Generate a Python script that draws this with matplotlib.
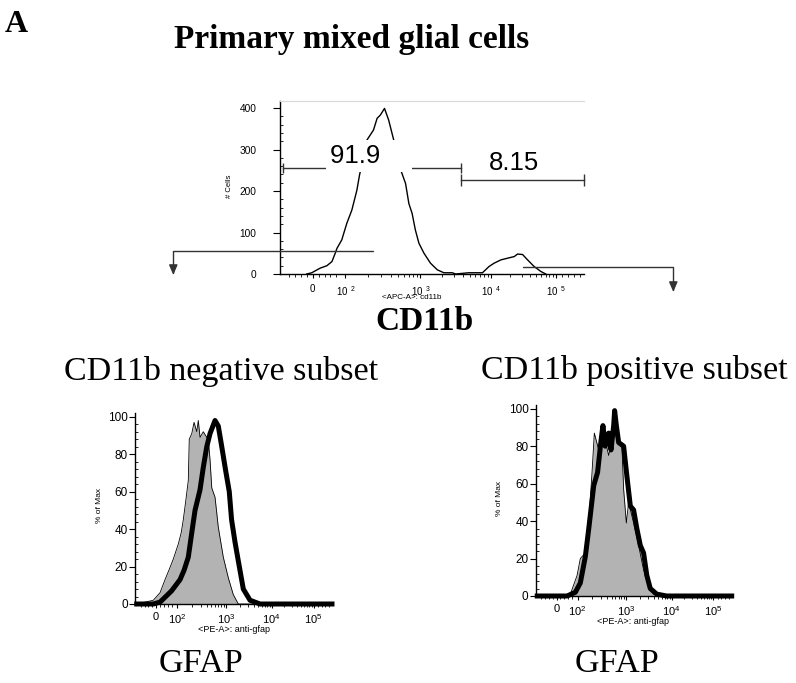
import numpy as np
import matplotlib
matplotlib.use("Agg")
import matplotlib.pyplot as plt
from matplotlib.patches import FancyArrowPatch
from matplotlib.path import Path
from matplotlib.ticker import MultipleLocator

plt.rcParams["font.family"] = ["Liberation Sans", "DejaVu Sans"]
plt.rcParams["mathtext.fontset"] = "custom"
plt.rcParams["mathtext.rm"] = "Liberation Sans"

# ---- data (x in logicle channel units 0..1024) ----
cd11b_x = [90, 107, 135, 158, 175, 186, 192, 208, 225, 242, 259, 268, 282, 293, 315, 327, 338, 352,
           366, 383, 394, 406, 423, 434, 445, 456, 468, 485, 507, 530, 552, 580, 592, 636, 682, 704,
           721, 744, 766, 789, 800, 817, 834, 856, 879, 895]
cd11b_y = [0, 3, 14, 20, 30, 50, 62, 82, 122, 154, 202, 239, 283, 323, 347, 375, 383, 399,
           371, 323, 283, 252, 218, 170, 146, 106, 74, 50, 26, 10, 3, 3, 0, 3, 3, 18,
           26, 34, 38, 42, 48, 47, 34, 18, 6, 0]

gate_neg = [11, 608]
gate_pos = [611, 1024]
gate_neg_y = 254.6
gate_pos_y = 226.5
gate_pct = ["91.9", "8.15"]

neg_grey_x = [9, 95, 130, 156, 180, 199, 225, 240, 251, 265, 277, 282, 295, 307, 321, 329, 338, 355,
              373, 381, 390, 399, 416, 433, 459, 485, 511, 537, 1024]
neg_grey_y = [0, 2, 6, 13, 19, 24, 32, 38, 45, 56, 66, 88, 91, 97, 92, 98, 89, 92,
              89, 88, 77, 62, 57, 41, 25, 14, 5, 0, 0]
neg_black_x = [9, 95, 130, 150, 190, 234, 255, 277, 295, 312, 338, 355, 373, 390, 416, 433, 451, 470,
               490, 502, 520, 537, 563, 598, 650, 1024]
neg_black_y = [0, 0, 1, 3, 7, 13, 18, 25, 38, 50, 61, 73, 84, 91, 98, 95, 84, 72,
               60, 45, 33, 23, 8, 2, 0, 0]

pos_grey_x = [9, 130, 182, 217, 234, 260, 278, 295, 307, 330, 347, 364, 382, 399, 408, 425, 451, 460,
              474, 486, 512, 538, 564, 590, 616, 650, 1024]
pos_grey_y = [0, 0, 1, 11, 20, 23, 39, 66, 87, 78, 89, 83, 75, 83, 92, 83, 80, 57,
              39, 50, 39, 27, 14, 5, 1, 0, 0]
pos_black_x = [9, 165, 208, 234, 260, 278, 304, 324, 342, 352, 364, 382, 394, 408, 413, 422, 434, 460,
               477, 495, 512, 529, 547, 564, 581, 599, 633, 685, 1024]
pos_black_y = [0, 0, 2, 7, 21, 36, 59, 66, 83, 91, 80, 87, 78, 91, 99, 91, 82, 80,
               64, 48, 46, 36, 27, 23, 11, 4, 1, 0, 0]

tick_pos = [110, 220, 473, 711, 928]
tick_lab = ["0", r"$\mathregular{10^2}$", r"$\mathregular{10^3}$", r"$\mathregular{10^4}$", r"$\mathregular{10^5}$"]
tick_lab_top = ["0", r"$\mathregular{10\ {}^{2}}$", r"$\mathregular{10\ {}^{3}}$",
                r"$\mathregular{10\ {}^{4}}$", r"$\mathregular{10\ {}^{5}}$"]

W, H = 796, 683
fig = plt.figure(figsize=(W / 100, H / 100), dpi=100)


def fx(px):
    return px / W


def fy(py):
    return 1 - py / H


def minor_ticks():
    out = [30, 50, 70, 90, 130, 150, 170, 190]
    for a, b in zip(tick_pos[1:-1], tick_pos[2:]):
        for m in range(2, 10):
            out.append(a + (b - a) * np.log10(m))
    out += [950, 970, 990, 1010]
    return out


def style_axes(ax, top_grey=False):
    ax.spines["right"].set_visible(False)
    if top_grey:
        ax.spines["top"].set_color("#d9d9d9")
        ax.spines["top"].set_linewidth(0.8)
    else:
        ax.spines["top"].set_visible(False)
    for s in ("left", "bottom"):
        ax.spines[s].set_linewidth(1.0)
    ax.set_xlim(0, 1024)
    ax.set_xticks(minor_ticks(), minor=True)
    ax.tick_params(axis="x", which="major", direction="out", length=3, width=0.8)
    ax.tick_params(axis="x", which="minor", direction="out", length=2, width=0.6)
    ax.tick_params(axis="y", which="minor", direction="in", length=2, width=0.6)
    ax.patch.set_alpha(0)


# ---- top panel: CD11b ----
ax0 = fig.add_axes([fx(280), fy(274), fx(304), (274 - 100.7) / H])
style_axes(ax0, top_grey=True)
ax0.plot(cd11b_x, cd11b_y, color="black", lw=1.0)
ax0.set_ylim(0, 417.6)
ax0.set_yticks([0, 100, 200, 300, 400])
ax0.yaxis.set_minor_locator(MultipleLocator(20))
ax0.tick_params(axis="y", which="major", direction="out", length=5, width=0.8, pad=12, labelsize=7.3)
ax0.set_xticks(tick_pos)
ax0.set_xticklabels(tick_lab_top)
ax0.tick_params(axis="x", which="major", labelsize=7, pad=4)
ax0.set_ylabel("# Cells", fontsize=5.5)
ax0.yaxis.set_label_coords(-0.155, 0.504)
ax0.set_xlabel("<APC-A>: cd11b", fontsize=5.8)
ax0.xaxis.set_label_coords(0.433, -0.134)
ax0.xaxis.label.set_verticalalignment("center")

ax0.plot(gate_neg, [gate_neg_y, gate_neg_y], color="#333333", lw=1.0, marker="|",
         markersize=7, mew=1.0, clip_on=False)
ax0.plot(gate_pos, [gate_pos_y, gate_pos_y], color="#333333", lw=1.0, marker="|",
         markersize=8, mew=1.0, clip_on=False)
ax0.text(168, 268, gate_pct[0] + "    ", fontsize=18.5, ha="left", va="baseline",
         bbox=dict(boxstyle="square,pad=0.15", fc="white", ec="none"), zorder=5)
ax0.text(789, 250.4, gate_pct[1], fontsize=18.5, ha="center", va="baseline", zorder=5)

# ---- bottom panels: GFAP ----
panels = [
    ([fx(135), fy(604), fx(197), (604 - 413) / H], neg_grey_x, neg_grey_y, neg_black_x, neg_black_y,
     (-0.161, 0.518), (0.503, -0.136)),
    ([fx(535.5), fy(596), fx(196.2), (596 - 405) / H], pos_grey_x, pos_grey_y, pos_black_x, pos_black_y,
     (-0.164, 0.513), (0.498, -0.135)),
]
for rect, gx, gy, bx, by, ylc, xlc in panels:
    ax = fig.add_axes(rect)
    style_axes(ax)
    ax.fill_between(gx, gy, 0, color="#b3b3b3", lw=0)
    ax.plot(gx, gy, color="black", lw=0.6)
    ax.plot(bx, by, color="black", lw=3.6, solid_joinstyle="round", clip_on=False, zorder=4)
    ax.set_ylim(0, 102)
    ax.set_yticks([0, 20, 40, 60, 80, 100])
    ax.yaxis.set_minor_locator(MultipleLocator(4))
    ax.tick_params(axis="y", which="major", direction="out", length=4, width=0.8, pad=1, labelsize=8.5)
    ax.set_xticks(tick_pos)
    ax.set_xticklabels(tick_lab)
    ax.tick_params(axis="x", which="major", labelsize=8, pad=3)
    ax.set_ylabel("% of Max", fontsize=6)
    ax.yaxis.set_label_coords(*ylc)
    ax.set_xlabel("<PE-A>: anti-gfap", fontsize=6.5)
    ax.xaxis.set_label_coords(*xlc)
    ax.xaxis.label.set_verticalalignment("center")

# ---- arrows from the gates to the subsets ----
arrow_paths = [
    [(373, 250.7), (173.3, 250.7), (173.3, 275)],
    [(523.3, 267.3), (673.3, 267.3), (673.3, 292)],
]
for pts in arrow_paths:
    verts = [(fx(x), fy(y)) for x, y in pts]
    p = Path(verts, [Path.MOVETO, Path.LINETO, Path.LINETO])
    arr = FancyArrowPatch(path=p, arrowstyle="-|>,head_length=0.75,head_width=0.32",
                          mutation_scale=8, color="#333333", lw=1.0,
                          transform=fig.transFigure, shrinkA=0, shrinkB=0)
    fig.add_artist(arr)

# ---- headings ----
serif = ["Liberation Serif", "DejaVu Serif"]
fig.text(fx(5), fy(32), "A", family=serif, fontweight="bold", fontsize=23, ha="left", va="baseline")
fig.text(fx(351.8), fy(48.2), "Primary mixed glial cells", family=serif, fontweight="bold",
         fontsize=24, ha="center", va="baseline")
fig.text(fx(424.7), fy(330), "CD11b", family=serif, fontweight="bold", fontsize=24,
         ha="center", va="baseline")
fig.text(fx(221), fy(380), "CD11b negative subset", family=serif, fontsize=24.5,
         ha="center", va="baseline")
fig.text(fx(634), fy(379.3), "CD11b positive subset", family=serif, fontsize=24.5,
         ha="center", va="baseline")
fig.text(fx(200.5), fy(671.7), "GFAP", family=serif, fontsize=24.5, ha="center", va="baseline")
fig.text(fx(617), fy(671.7), "GFAP", family=serif, fontsize=24.5, ha="center", va="baseline")

fig.savefig("out.png", dpi=100)
